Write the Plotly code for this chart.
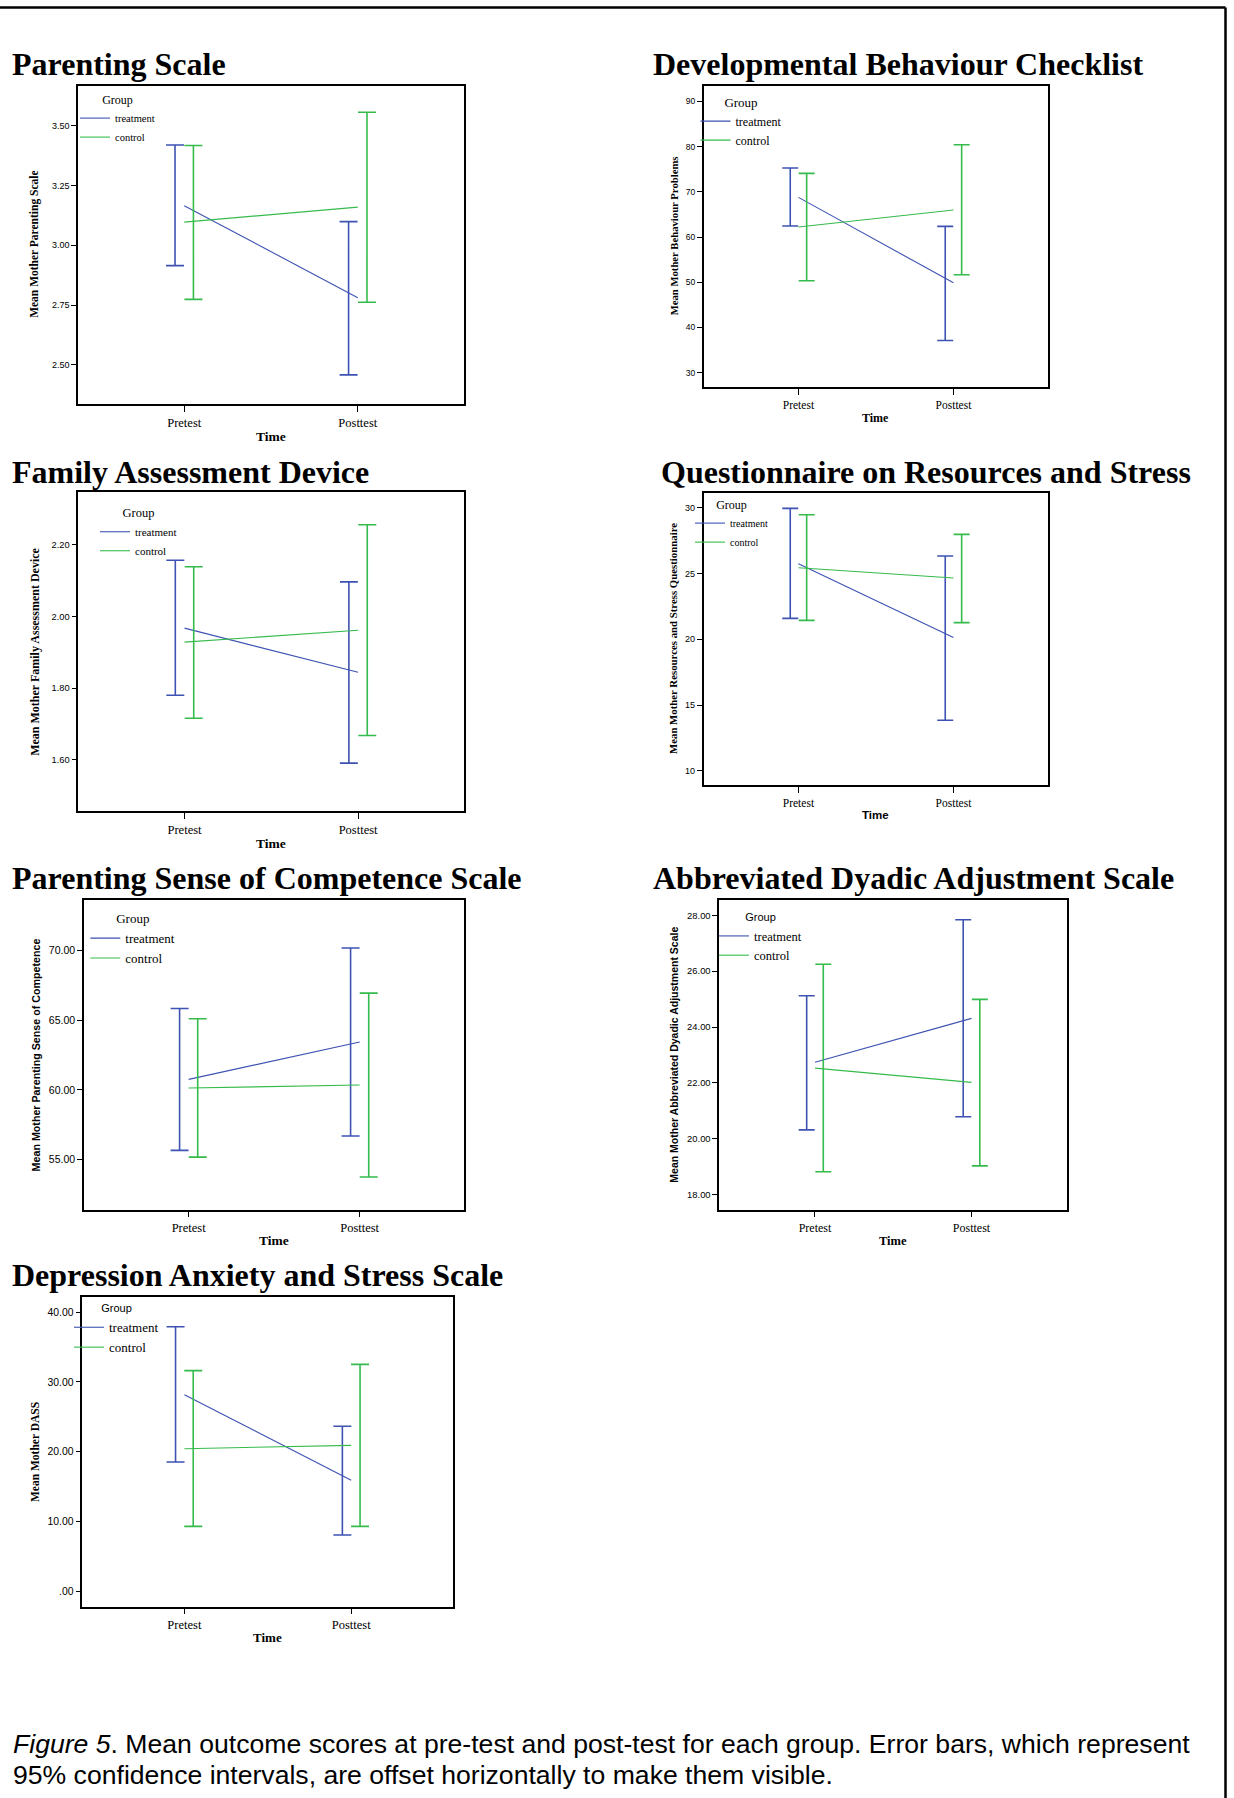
import plotly.graph_objects as go

W, H = 1234, 1798

# ---------------- data ----------------
time_labels = ["Pretest", "Posttest"]
group_names = ["treatment", "control"]

panel_titles = [
    "Parenting Scale",
    "Developmental Behaviour Checklist",
    "Family Assessment Device",
    "Questionnaire on Resources and Stress",
    "Parenting Sense of Competence Scale",
    "Abbreviated Dyadic Adjustment Scale",
    "Depression Anxiety and Stress Scale",
]
y_titles = [
    "Mean Mother Parenting Scale",
    "Mean Mother Behaviour Problems",
    "Mean Mother Family Assessment Device",
    "Mean Mother Resources and Stress Questionnaire",
    "Mean Mother Parenting Sense of Competence",
    "Mean Mother Abbreviated Dyadic Adjustment Scale",
    "Mean Mother DASS",
]

# means and 95% CI bounds  [pretest, posttest]
treatment_mean = [[3.166, 2.781], [68.76, 49.88], [1.967, 1.844], [25.75, 20.13],
                  [60.76, 63.43], [22.74, 24.31], [28.18, 15.92]]
treatment_lo = [[2.915, 2.458], [62.42, 37.12], [1.780, 1.591], [21.59, 13.85],
                [55.67, 56.70], [20.32, 20.79], [18.55, 8.11]]
treatment_hi = [[3.420, 3.099], [75.25, 62.35], [2.156, 2.096], [29.95, 26.33],
                [65.84, 70.17], [25.12, 27.84], [37.90, 23.65]]
control_mean = [[3.097, 3.160], [62.20, 65.96], [1.928, 1.961], [25.44, 24.66],
                [60.14, 60.35], [22.53, 22.02], [20.45, 20.93]]
control_lo = [[2.774, 2.762], [50.32, 51.65], [1.716, 1.668], [21.44, 21.27],
              [55.19, 53.76], [18.82, 19.03], [9.34, 9.34]]
control_hi = [[3.418, 3.557], [74.07, 80.41], [2.138, 2.255], [29.47, 27.97],
              [65.10, 66.94], [26.25, 24.99], [31.61, 32.51]]

y_tickvals = [
    [2.50, 2.75, 3.00, 3.25, 3.50],
    [30, 40, 50, 60, 70, 80, 90],
    [1.60, 1.80, 2.00, 2.20],
    [10, 15, 20, 25, 30],
    [55, 60, 65, 70],
    [18, 20, 22, 24, 26, 28],
    [0, 10, 20, 30, 40],
]
y_ticktext = [
    ["2.50", "2.75", "3.00", "3.25", "3.50"],
    ["30", "40", "50", "60", "70", "80", "90"],
    ["1.60", "1.80", "2.00", "2.20"],
    ["10", "15", "20", "25", "30"],
    ["55.00", "60.00", "65.00", "70.00"],
    ["18.00", "20.00", "22.00", "24.00", "26.00", "28.00"],
    [".00", "10.00", "20.00", "30.00", "40.00"],
]
y_ranges = [
    [2.336, 3.668], [26.84, 93.45], [1.4567, 2.3455], [8.91, 31.14],
    [51.42, 73.63], [17.46, 28.56], [-2.15, 42.19],
]

caption_line1 = ("<i>Figure 5</i>. Mean outcome scores at pre-test and post-test for each group. "
                 "Error bars, which represent")
caption_line2 = "95% confidence intervals, are offset horizontally to make them visible."

# ---------------- layout / style ----------------
SERIF = "Liberation Serif"
SANS = "Liberation Sans"

# plot-box pixel boxes (left, right, top, bottom)
boxes = [
    (78, 464, 85.7, 404),
    (703.6, 1048.3, 85.7, 387),
    (78.3, 464.3, 492.3, 811.3),
    (703.6, 1048.3, 492.7, 785.3),
    (84, 464.3, 899.7, 1209.7),
    (719.2, 1067.3, 899.7, 1209.7),
    (82.3, 453.3, 1296.7, 1606.7),
]
title_pos = [(10, 64), (651, 64), (10, 472), (659, 472), (10, 878), (651, 878), (10, 1275)]
ytitle_x = [35, 674, 35, 673, 35.7, 674, 34.3]
ytitle_font = [SERIF, SERIF, SERIF, SERIF, SANS, SANS, SERIF]
ytitle_size = [11.5, 10.7, 12, 10.8, 10.7, 10.5, 11.5]
time_y = [436.7, 417.7, 843.3, 815, 1240.7, 1240.7, 1637.7]
time_font = [SERIF, SERIF, SERIF, SANS, SERIF, SERIF, SERIF]
time_size = [13.5, 12, 13.5, 11.5, 13.5, 12.5, 13]
tick_size = [9, 8.5, 9.3, 9, 10.5, 9.4, 10.4]
xtick_size = [12.5, 11.5, 12.5, 11.5, 12.5, 12, 12.5]
legend_text_pos = [(115, 98), (735.5, 99.7), (135, 511), (730, 503),
                   (125.3, 916.3), (754, 917), (109, 1308)]
legend_size = [10.5, 12, 11, 10, 13, 12.5, 13]
legend_title_font = [SERIF, SERIF, SERIF, SERIF, SERIF, SANS, SANS]
legend_title_size = [12, 13, 12.5, 12, 13, 11, 11]
cap_half = [9, 8, 9, 8, 9, 8, 9]
x_range = [-0.612, 1.612]
offset = 0.053

BLUE = "#3d52b2"
GREEN = "#35bb4b"
colors = [BLUE, GREEN]


def X(px):
    return px / W


def Y(py):
    return 1 - py / H


fig = go.Figure()
annotations = []
layout_axes = {}

for i in range(7):
    n = i + 1
    xa = "x" if n == 1 else f"x{n}"
    ya = "y" if n == 1 else f"y{n}"
    leg = "legend" if n == 1 else f"legend{n}"
    l, r, t, b = boxes[i]

    series = [
        (treatment_mean[i], treatment_lo[i], treatment_hi[i]),
        (control_mean[i], control_lo[i], control_hi[i]),
    ]
    for g, (m, lo, hi) in enumerate(series):
        xs = [0, 1]
        fig.add_trace(go.Scatter(
            x=xs, y=m, mode="lines", name=group_names[g],
            line=dict(color=colors[g], width=1.1),
            xaxis=xa, yaxis=ya, legend=leg, showlegend=True,
            hoverinfo="skip",
        ))
        sgn = -1 if g == 0 else 1
        fig.add_trace(go.Scatter(
            x=[k + sgn * offset for k in xs], y=m, mode="markers",
            marker=dict(size=1, color="rgba(0,0,0,0)"),
            error_y=dict(type="data", symmetric=False,
                         array=[hi[k] - m[k] for k in range(2)],
                         arrayminus=[m[k] - lo[k] for k in range(2)],
                         color=colors[g], thickness=1.6, width=cap_half[i]),
            xaxis=xa, yaxis=ya, showlegend=False, hoverinfo="skip",
        ))

    layout_axes["xaxis" if n == 1 else f"xaxis{n}"] = dict(
        domain=[X(l), X(r)], anchor=ya, range=x_range,
        tickvals=[0, 1], ticktext=time_labels, ticks="outside", ticklen=6,
        tickcolor="black", tickwidth=1,
        showline=True, linecolor="black", linewidth=1.5, mirror=True,
        showgrid=False, zeroline=False,
        tickfont=dict(family=SERIF, size=xtick_size[i], color="black"),
    )
    layout_axes["yaxis" if n == 1 else f"yaxis{n}"] = dict(
        domain=[Y(b), Y(t)], anchor=xa, range=y_ranges[i],
        tickvals=y_tickvals[i], ticktext=y_ticktext[i], ticks="outside", ticklen=5,
        tickcolor="black", tickwidth=1,
        showline=True, linecolor="black", linewidth=1.5, mirror=True,
        showgrid=False, zeroline=False,
        tickfont=dict(family=SANS, size=tick_size[i], color="black"),
    )
    lx, ly = legend_text_pos[i]
    layout_axes[leg] = dict(
        x=X(lx - 40), y=Y(ly - 10), xref="paper", yref="paper",
        xanchor="left", yanchor="top", bgcolor="rgba(0,0,0,0)",
        font=dict(family=SERIF, size=legend_size[i], color="black"),
        title=dict(text="Group", side="top center",
                   font=dict(family=legend_title_font[i], size=legend_title_size[i], color="black")),
        tracegroupgap=0, itemwidth=30,
    )

    tx, ty = title_pos[i]
    annotations.append(dict(
        text=f"<b>{panel_titles[i]}</b>", x=X(tx), y=Y(ty), xref="paper", yref="paper",
        xanchor="left", yanchor="middle", showarrow=False,
        font=dict(family=SERIF, size=32, color="black"),
    ))
    annotations.append(dict(
        text=f"<b>{y_titles[i]}</b>", x=X(ytitle_x[i]), y=Y((t + b) / 2),
        xref="paper", yref="paper", textangle=-90, showarrow=False,
        xanchor="center", yanchor="middle",
        font=dict(family=ytitle_font[i], size=ytitle_size[i], color="black"),
    ))
    annotations.append(dict(
        text="<b>Time</b>", x=X((l + r) / 2), y=Y(time_y[i]),
        xref="paper", yref="paper", showarrow=False,
        xanchor="center", yanchor="middle",
        font=dict(family=time_font[i], size=time_size[i], color="black"),
    ))

for txt, py in [(caption_line1, 1744), (caption_line2, 1775)]:
    annotations.append(dict(
        text=txt, x=X(11), y=Y(py),
        xref="paper", yref="paper", showarrow=False, align="left",
        xanchor="left", yanchor="middle",
        font=dict(family=SANS, size=26.6, color="black"),
    ))

shapes = [
    dict(type="line", xref="paper", yref="paper", x0=0, x1=X(1225.5), y0=Y(7.5), y1=Y(7.5),
         line=dict(color="black", width=2.5)),
    dict(type="line", xref="paper", yref="paper", x0=X(1225.5), x1=X(1225.5), y0=Y(7.5), y1=0,
         line=dict(color="black", width=2.5)),
]

fig.update_layout(
    width=W, height=H, margin=dict(l=0, r=0, t=0, b=0),
    paper_bgcolor="white", plot_bgcolor="white",
    annotations=annotations, shapes=shapes,
    **layout_axes,
)

fig.write_html("out.html", config={"displayModeBar": False},
               post_script="document.body.style.margin='0';")
